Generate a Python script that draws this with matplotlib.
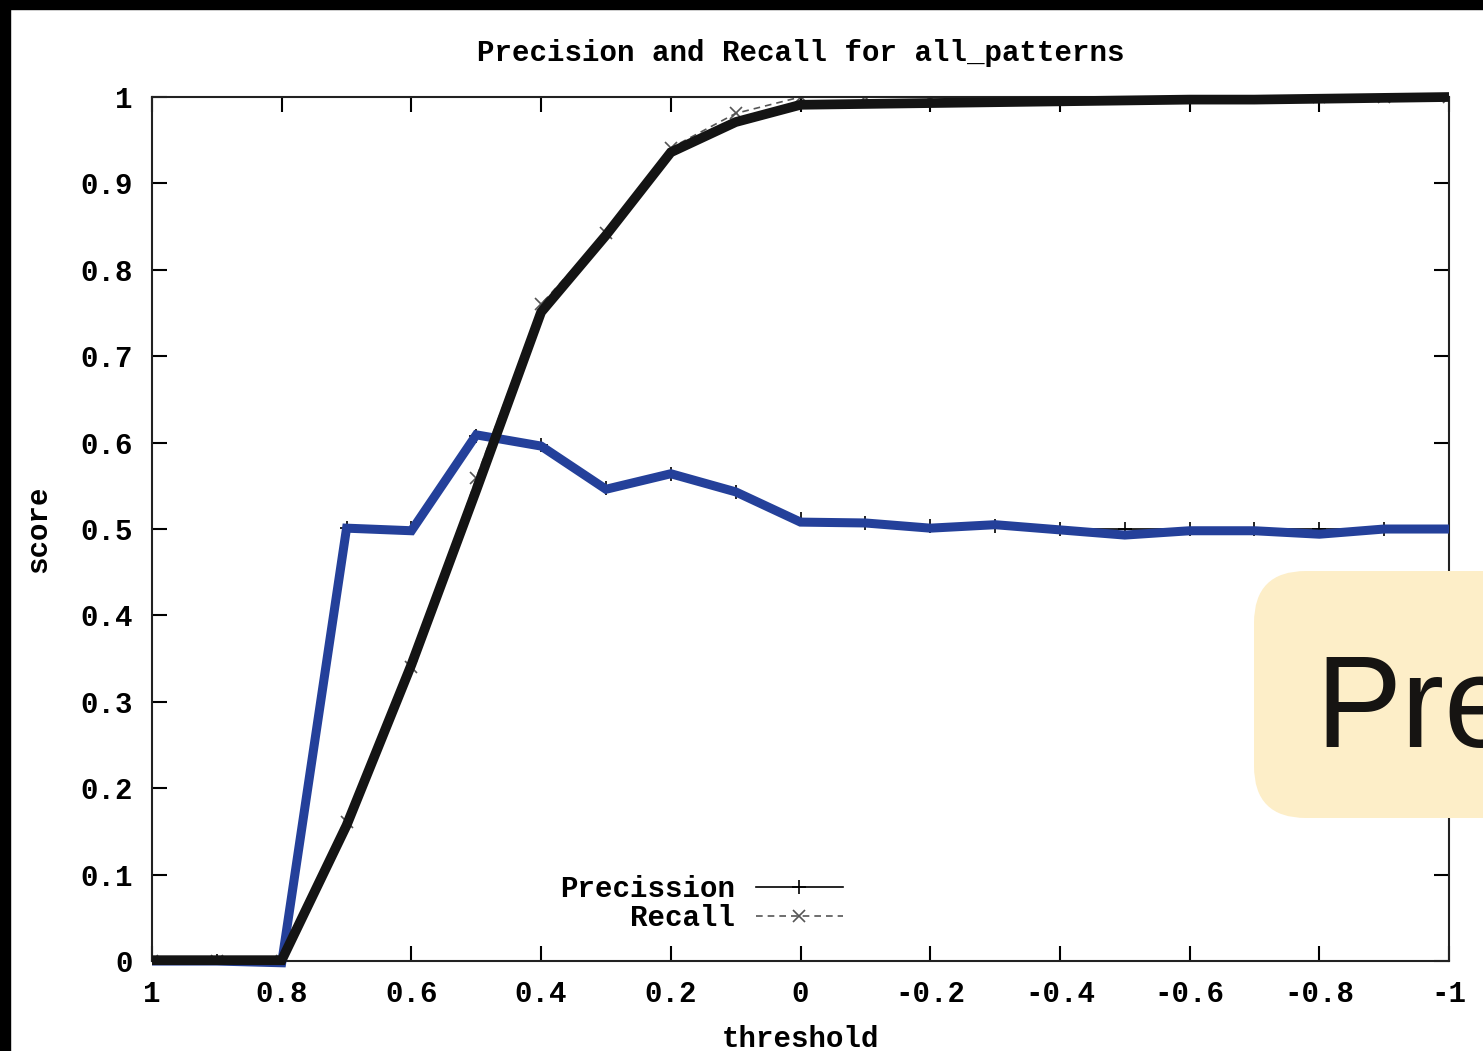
import matplotlib
matplotlib.use("Agg")
import matplotlib.pyplot as plt
from matplotlib.patches import Rectangle, FancyBboxPatch

# thresholds go from 1 down to -1
thresholds = [1.0, 0.9, 0.8, 0.7, 0.6, 0.5, 0.4, 0.3, 0.2, 0.1, 0.0,
              -0.1, -0.2, -0.3, -0.4, -0.5, -0.6, -0.7, -0.8, -0.9, -1.0]

# gnuplot series
precision = [0.0, 0.0, 0.0, 0.501, 0.501, 0.608, 0.597, 0.547, 0.564, 0.543, 0.512,
             0.507, 0.503, 0.503, 0.500, 0.500, 0.500, 0.500, 0.500, 0.500, 0.500]
recall = [0.0, 0.0, 0.0, 0.161, 0.340, 0.559, 0.760, 0.843, 0.941, 0.981, 1.0,
          1.0, 1.0, 1.0, 1.0, 1.0, 1.0, 1.0, 1.0, 1.0, 1.0]

# thick hand-drawn overlays
blue_trace = [0.0, 0.0, -0.002, 0.501, 0.498, 0.609, 0.596, 0.546, 0.564, 0.543, 0.508,
              0.507, 0.501, 0.505, 0.499, 0.493, 0.498, 0.498, 0.494, 0.500, 0.500]
black_trace = [0.001, 0.001, 0.001, 0.157, 0.343, 0.545, 0.751, 0.840, 0.936, 0.971, 0.991,
               0.992, 0.993, 0.994, 0.995, 0.996, 0.997, 0.997, 0.998, 0.999, 1.0]

xticks = [1.0, 0.8, 0.6, 0.4, 0.2, 0.0, -0.2, -0.4, -0.6, -0.8, -1.0]
xtick_labels = ["1", "0.8", "0.6", "0.4", "0.2", "0", "-0.2", "-0.4", "-0.6", "-0.8", "-1"]
yticks = [0.0, 0.1, 0.2, 0.3, 0.4, 0.5, 0.6, 0.7, 0.8, 0.9, 1.0]
ytick_labels = ["0", "0.1", "0.2", "0.3", "0.4", "0.5", "0.6", "0.7", "0.8", "0.9", "1"]

mono = "Liberation Mono"
fs = 21
wt = "bold"

fig = plt.figure(figsize=(14.83, 10.51), dpi=100)
ax = fig.add_axes([0.1025, 0.0856, 0.8746, 0.8221])

ax.plot(thresholds, precision, color="black", lw=1.2, marker="+", ms=10, mew=1.2,
        label="Precission", zorder=2)
ax.plot(thresholds, recall, color="#555555", lw=1.2, ls=(0, (4, 3)), marker="x", ms=8,
        mew=1.2, label="Recall", zorder=2)

ax.plot(thresholds, blue_trace, color="#24409a", lw=6.5, solid_joinstyle="miter",
        solid_capstyle="butt", clip_on=False, zorder=3)
ax.plot(thresholds, black_trace, color="#141414", lw=7, solid_joinstyle="miter",
        solid_capstyle="butt", clip_on=False, zorder=4)

ax.set_xlim(1, -1)
ax.set_ylim(0, 1)
ax.set_xticks(xticks)
ax.set_xticklabels(xtick_labels, fontfamily=mono, fontsize=fs, fontweight=wt)
ax.set_yticks(yticks)
ax.set_yticklabels(ytick_labels, fontfamily=mono, fontsize=fs, fontweight=wt)
ax.tick_params(direction="in", length=11, width=1.5, top=True, right=True, pad=14)
for s in ax.spines.values():
    s.set_linewidth(1.5)
    s.set_color("#222222")

ax.set_title("Precision and Recall for all_patterns", fontfamily=mono, fontsize=fs,
             fontweight=wt, pad=26)
ax.set_xlabel("threshold", fontfamily=mono, fontsize=fs, fontweight=wt, labelpad=12)
ax.set_ylabel("score", fontfamily=mono, fontsize=fs, fontweight=wt, labelpad=20)

leg = ax.legend(loc="lower right", bbox_to_anchor=(0.553, 0.003), frameon=False,
                markerfirst=False, handlelength=3.0, labelspacing=0.05,
                handletextpad=0.7, prop={"family": mono, "size": fs, "weight": wt})

# black frame strips at left and top of the screenshot
fig.add_artist(Rectangle((0, 0), 10 / 1483, 1, transform=fig.transFigure,
                         color="black", zorder=10))
fig.add_artist(Rectangle((0, 1 - 9 / 1051), 1, 9 / 1051, transform=fig.transFigure,
                         color="black", zorder=10))

# yellow callout box cut off at the right edge
box = FancyBboxPatch((1254 / 1483, 1 - 818 / 1051), 400 / 1483, 247 / 1051,
                     boxstyle="round,pad=0,rounding_size=0.035",
                     transform=fig.transFigure, facecolor="#fdeec8",
                     edgecolor="none", zorder=11, mutation_aspect=1483 / 1051)
fig.add_artist(box)
fig.text(1315 / 1483, 1 - 713 / 1051, "Pre", fontfamily="Liberation Sans",
         fontsize=93, color="#161412", va="center", ha="left", zorder=12)

fig.savefig("out.png", dpi=100)
